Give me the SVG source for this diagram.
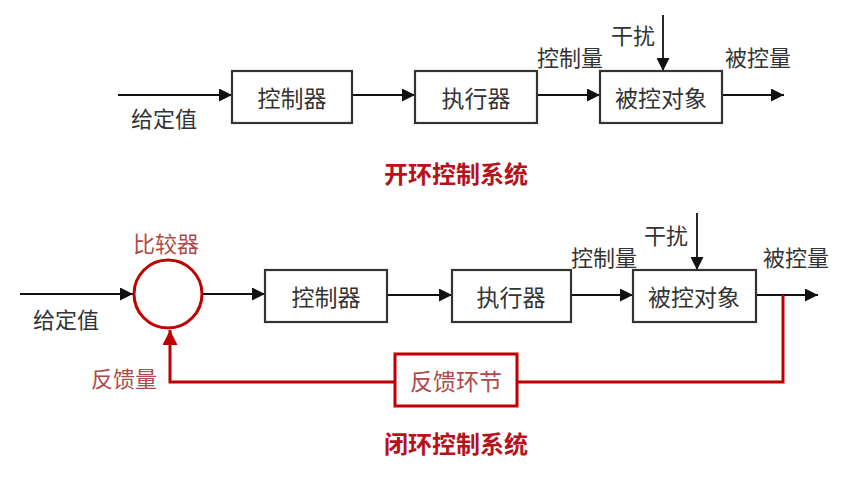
<svg xmlns="http://www.w3.org/2000/svg" width="848" height="481" viewBox="0 0 848 481">
  <style>
    .t { font-family: "Noto Sans CJK SC", "Microsoft YaHei", sans-serif; fill: #333; dominant-baseline: central; text-anchor: middle; }
    .box { fill: #fff; stroke: #333; stroke-width: 2.2; }
    .line { fill: none; stroke: #111; stroke-width: 1.8; }
    .red { fill: none; stroke: #c00000; stroke-width: 3; }
    .lbl { font-size: 22px; }
    .bt { font-size: 23px; }
    .title { font-size: 24px; font-weight: bold; fill: #b5121b; }
    .rt { fill: #b04a4a; }
  </style>
  <defs>
    <marker id="arr" viewBox="0 0 10 10" refX="10" refY="5" markerWidth="14" markerHeight="13" markerUnits="userSpaceOnUse" orient="auto">
      <path d="M0,0 L10,5 L0,10 z" fill="#111"/>
    </marker>
    <marker id="arrRed" viewBox="0 0 10 10" refX="10" refY="5" markerWidth="15" markerHeight="15" markerUnits="userSpaceOnUse" orient="auto">
      <path d="M0,0 L10,5 L0,10 z" fill="#c00000"/>
    </marker>
  </defs>

  <rect width="848" height="481" fill="#fff"/>

  <!-- open loop -->
  <g id="connectors-open">
    <line class="line" x1="118" y1="95" x2="232" y2="95" marker-end="url(#arr)"/>
    <line class="line" x1="352" y1="95" x2="415" y2="95" marker-end="url(#arr)"/>
    <line class="line" x1="537" y1="95" x2="600" y2="95" marker-end="url(#arr)"/>
    <line class="line" x1="722" y1="95" x2="784" y2="95" marker-end="url(#arr)"/>
    <line class="line" x1="663" y1="15" x2="663" y2="71" marker-end="url(#arr)"/>
  </g>
  <g id="open-controller">
    <rect class="box" x="232" y="71" width="120" height="52"/>
    <text class="t bt" x="292" y="97">控制器</text>
  </g>
  <g id="open-actuator">
    <rect class="box" x="415" y="71" width="122" height="52"/>
    <text class="t bt" x="476" y="97">执行器</text>
  </g>
  <g id="open-plant">
    <rect class="box" x="600" y="71" width="122" height="52"/>
    <text class="t bt" x="661" y="97">被控对象</text>
  </g>
  <g id="open-labels">
    <text class="t lbl" x="164" y="117">给定值</text>
    <text class="t lbl" x="633" y="34">干扰</text>
    <text class="t lbl" x="570" y="56">控制量</text>
    <text class="t lbl" x="758" y="56">被控量</text>
    <text class="t title" x="456" y="172">开环控制系统</text>
  </g>

  <!-- closed loop -->
  <g id="connectors-closed">
    <line class="line" x1="20" y1="294" x2="133" y2="294" marker-end="url(#arr)"/>
    <line class="line" x1="203" y1="294" x2="265" y2="294" marker-end="url(#arr)"/>
    <line class="line" x1="387" y1="295" x2="452" y2="295" marker-end="url(#arr)"/>
    <line class="line" x1="571" y1="295" x2="633" y2="295" marker-end="url(#arr)"/>
    <line class="line" x1="756" y1="295" x2="818" y2="295" marker-end="url(#arr)"/>
    <line class="line" x1="697" y1="213" x2="697" y2="270" marker-end="url(#arr)"/>
    <polyline class="red" points="783,295 783,382 517,382"/>
    <polyline class="red" points="395,382 170,382 170,330" marker-end="url(#arrRed)"/>
  </g>
  <g id="comparator">
    <circle cx="168" cy="294" r="34" fill="#fff" stroke="#c00000" stroke-width="3"/>
    <text class="t lbl rt" x="166" y="242">比较器</text>
  </g>
  <g id="closed-controller">
    <rect class="box" x="265" y="270" width="122" height="52"/>
    <text class="t bt" x="326" y="296">控制器</text>
  </g>
  <g id="closed-actuator">
    <rect class="box" x="452" y="270" width="119" height="52"/>
    <text class="t bt" x="511" y="296">执行器</text>
  </g>
  <g id="closed-plant">
    <rect class="box" x="633" y="270" width="123" height="52"/>
    <text class="t bt" x="694" y="296">被控对象</text>
  </g>
  <g id="feedback">
    <rect x="395" y="354" width="122" height="52" fill="#fff" stroke="#c00000" stroke-width="3"/>
    <text class="t bt rt" x="456" y="380">反馈环节</text>
  </g>
  <g id="closed-labels">
    <text class="t lbl" x="66" y="318">给定值</text>
    <text class="t lbl rt" x="124" y="377">反馈量</text>
    <text class="t lbl" x="666" y="234">干扰</text>
    <text class="t lbl" x="604" y="256">控制量</text>
    <text class="t lbl" x="796" y="256">被控量</text>
    <text class="t title" x="456" y="442">闭环控制系统</text>
  </g>
</svg>
